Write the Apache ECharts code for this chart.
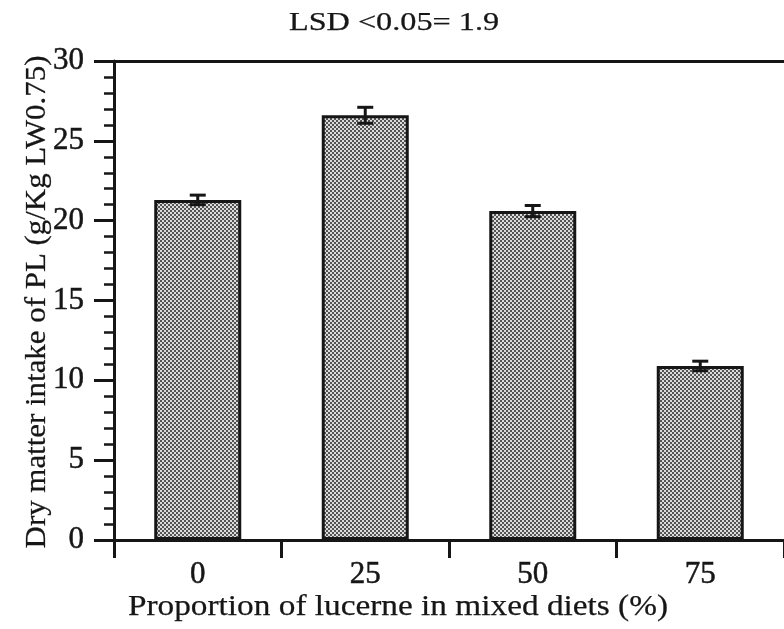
<!DOCTYPE html>
<html>
<head>
<meta charset="utf-8">
<script src="https://cdn.jsdelivr.net/npm/echarts@6/dist/echarts.min.js"></script>
<style>
  html, body { margin: 0; padding: 0; background: #fff; }
  #chart { width: 784px; height: 629px; }
</style>
</head>
<body>
<div id="chart"></div>
<script>
// Lucerne proportion in the mixed diet (%)
const categories = ['0', '25', '50', '75'];
// Mean dry matter intake of PL (g/Kg LW0.75)
const intake = [21.3, 26.6, 20.6, 10.9];
// Standard error of each mean
const errors = [0.3, 0.5, 0.35, 0.3];
// Y axis range and step
const yMin = 0, yMax = 30, yStep = 5;

const FONT = '"Liberation Serif", "Times New Roman", serif';
const INK = '#161616';
// A thin outline in the ink colour gives the lettering its heavy print look
const HEAVY = { textBorderColor: INK, textBorderWidth: 0.5 };
const HEAVY_GRAPHIC = { stroke: INK, lineWidth: 0.25 };

// Stippled grey fill used inside the bars
function stipple() {
  const c = document.createElement('canvas');
  c.width = 4; c.height = 4;
  const g = c.getContext('2d');
  g.fillStyle = '#dcdcdc';
  g.fillRect(0, 0, 4, 4);
  g.fillStyle = '#555555';
  g.fillRect(0, 0, 2, 2);
  g.fillRect(2, 2, 2, 2);
  return c;
}

const chart = echarts.init(document.getElementById('chart'), null, { renderer: 'canvas' });

const errData = intake.map((v, i) => [i, v - errors[i], v + errors[i]]);

chart.setOption({
  animation: false,
  backgroundColor: '#fff',
  grid: { left: 114, top: 61, width: 680, height: 479, containLabel: false },
  graphic: [
    {
      type: 'text', x: 394, y: 23, scaleX: 1.24,
      style: Object.assign({ text: 'LSD <0.05= 1.9', fontSize: 26, fontFamily: FONT, fill: INK,
               align: 'center', verticalAlign: 'middle' }, HEAVY_GRAPHIC)
    },
    {
      type: 'text', x: 398, y: 607, scaleX: 1.11,
      style: Object.assign({ text: 'Proportion of lucerne in mixed diets (%)', fontSize: 30, fontFamily: FONT,
               fill: INK, align: 'center', verticalAlign: 'middle' }, HEAVY_GRAPHIC)
    },
    {
      type: 'text', x: 37, y: 302, rotation: Math.PI / 2, scaleX: 1.03,
      style: Object.assign({ text: 'Dry matter intake of PL (g/Kg LW0.75)', fontSize: 30, fontFamily: FONT,
               fill: INK, align: 'center', verticalAlign: 'middle' }, HEAVY_GRAPHIC)
    }
  ],
  xAxis: [
    {
      type: 'category', data: categories, position: 'bottom',
      boundaryGap: true,
      axisLine: { show: true, lineStyle: { color: INK, width: 3 } },
      axisTick: { show: true, inside: false, length: 18, lineStyle: { color: INK, width: 3 } },
      axisLabel: Object.assign({ color: INK, fontFamily: FONT, fontSize: 31, margin: 19 }, HEAVY),
      splitLine: { show: false }
    },
    {
      type: 'category', data: categories, position: 'top',
      axisLine: { show: true, lineStyle: { color: INK, width: 3 } },
      axisTick: { show: false }, axisLabel: { show: false }, splitLine: { show: false }
    }
  ],
  yAxis: {
    type: 'value', min: yMin, max: yMax, interval: yStep,
    axisLine: { show: true, lineStyle: { color: INK, width: 3 } },
    axisTick: { show: true, inside: false, length: 20, lineStyle: { color: INK, width: 3 } },
    minorTick: { show: true, splitNumber: 5, length: 10, lineStyle: { color: INK, width: 2.5 } },
    axisLabel: Object.assign({ color: INK, fontFamily: FONT, fontSize: 31, margin: 30 }, HEAVY),
    splitLine: { show: false }, minorSplitLine: { show: false }
  },
  series: [
    {
      type: 'bar', data: intake, barWidth: 87,
      itemStyle: {
        color: { image: stipple(), repeat: 'repeat' },
        borderColor: INK, borderWidth: 3
      },
      z: 2
    },
    {
      type: 'custom', data: errData, z: 5,
      encode: { x: 0, y: [1, 2] },
      renderItem: function (params, api) {
        const i = api.value(0);
        const lo = api.coord([i, api.value(1)]);
        const hi = api.coord([i, api.value(2)]);
        const w = 8;
        const style = { stroke: INK, lineWidth: 3 };
        return {
          type: 'group',
          children: [
            { type: 'line', shape: { x1: lo[0], y1: lo[1], x2: hi[0], y2: hi[1] }, style },
            { type: 'line', shape: { x1: hi[0] - w, y1: hi[1], x2: hi[0] + w, y2: hi[1] }, style },
            { type: 'line', shape: { x1: lo[0] - w, y1: lo[1], x2: lo[0] + w, y2: lo[1] }, style }
          ]
        };
      }
    }
  ]
});
</script>
</body>
</html>
